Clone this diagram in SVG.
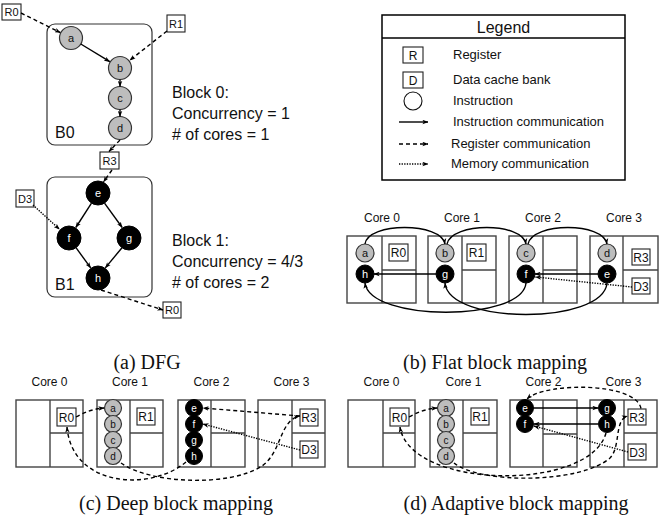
<svg xmlns="http://www.w3.org/2000/svg" width="671" height="520" viewBox="0 0 671 520">
<defs>
<marker id="ah" viewBox="0 0 8 6" refX="7.5" refY="3" markerWidth="6" markerHeight="5" markerUnits="userSpaceOnUse" orient="auto"><path d="M0,0 L8,3 L0,6 L2,3 z" fill="#000"/></marker>
</defs>
<style>
text{font-family:"Liberation Sans",Arial,sans-serif;fill:#111}
.cap{font-family:"Liberation Serif","Times New Roman",serif;font-size:20px;text-anchor:middle}
.gn{fill:#bdbdbd;stroke:#333;stroke-width:1.2}
.bn{fill:#000;stroke:#000;stroke-width:1}
.nl{font-size:11px;text-anchor:middle}
.ml{font-size:10px;text-anchor:middle}
.w{fill:#fff}
.box{fill:#fff;stroke:#222;stroke-width:1.1}
.bl{font-size:11px;text-anchor:middle}
.core{fill:none;stroke:#444;stroke-width:1.4}
.blk{fill:none;stroke:#333;stroke-width:1.2}
.big{font-size:16px}
.cl{font-size:12px;text-anchor:middle}
.lg{font-size:13px}
.s{fill:none;stroke:#000;stroke-width:1.4;marker-end:url(#ah)}
.d{fill:none;stroke:#000;stroke-width:1.4;stroke-dasharray:4 3;marker-end:url(#ah)}
.o{fill:none;stroke:#000;stroke-width:1.4;stroke-dasharray:1.3 1.3;marker-end:url(#ah)}
</style>

<!-- (a) DFG -->
<g id="dfg">
<g id="B0"><rect class="blk" x="47" y="24" width="105" height="121" rx="8"/><text class="big" x="55" y="138">B0</text></g>
<g id="B1"><rect class="blk" x="47" y="177" width="105" height="120" rx="8"/><text class="big" x="55" y="290">B1</text></g>
<g id="dfg-a"><circle class="gn" cx="71" cy="38" r="11.5"/><text class="nl" x="71" y="42">a</text></g>
<g id="dfg-b"><circle class="gn" cx="120" cy="68" r="11.5"/><text class="nl" x="120" y="72">b</text></g>
<g id="dfg-c"><circle class="gn" cx="120" cy="98" r="11.5"/><text class="nl" x="120" y="102">c</text></g>
<g id="dfg-d"><circle class="gn" cx="120" cy="128" r="11.5"/><text class="nl" x="120" y="132">d</text></g>
<g id="dfg-e"><circle class="bn" cx="98" cy="193" r="12"/><text class="nl w" x="98" y="197">e</text></g>
<g id="dfg-f"><circle class="bn" cx="69" cy="238" r="12"/><text class="nl w" x="69" y="242">f</text></g>
<g id="dfg-g"><circle class="bn" cx="129" cy="238" r="12"/><text class="nl w" x="129" y="242">g</text></g>
<g id="dfg-h"><circle class="bn" cx="98" cy="278" r="12"/><text class="nl w" x="98" y="282">h</text></g>
<g id="dfg-R0"><rect class="box" x="2" y="4" width="19" height="16"/><text class="bl" x="11.5" y="16">R0</text></g>
<g id="dfg-R1"><rect class="box" x="167" y="15" width="18" height="17"/><text class="bl" x="176" y="27.5">R1</text></g>
<g id="dfg-R3"><rect class="box" x="100" y="152" width="19" height="17"/><text class="bl" x="109.5" y="164.5">R3</text></g>
<g id="dfg-D3"><rect class="box" x="16" y="190" width="18" height="17"/><text class="bl" x="25" y="202.5">D3</text></g>
<g id="dfg-R0b"><rect class="box" x="163" y="302" width="18" height="16"/><text class="bl" x="172" y="314">R0</text></g>
</g>
<g id="dfg-edges">
<path class="s" d="M80.8,44 L109.8,61.7"/>
<path class="s" d="M120,79.5 L120,86.5"/>
<path class="s" d="M120,109.5 L120,116.5"/>
<path class="s" d="M91.5,203.1 L75.8,227.5"/>
<path class="s" d="M104.5,203.1 L122.2,227.5"/>
<path class="s" d="M76,247.7 L90.7,267.9"/>
<path class="s" d="M122,247.7 L105.3,267.9"/>
<path class="d" d="M21,13 L60.3,32.6"/>
<path class="d" d="M167,31 L129.8,60.3"/>
<path class="d" d="M120,140 L109,151.5"/>
<path class="d" d="M112,170 L103.5,182"/>
<path class="o" d="M33,205 L59.4,229.2"/>
<path class="d" d="M101,290 L163,310"/>
</g>
<g id="block-text">
<text class="big" x="172" y="98">Block 0:</text>
<text class="big" x="172" y="119">Concurrency = 1</text>
<text class="big" x="172" y="140"># of cores = 1</text>
<text class="big" x="172" y="246">Block 1:</text>
<text class="big" x="172" y="267">Concurrency = 4/3</text>
<text class="big" x="172" y="288"># of cores = 2</text>
</g>

<!-- Legend -->
<g id="legend">
<rect x="382" y="15" width="243" height="165" fill="#fff" stroke="#000" stroke-width="1.5"/>
<line x1="382" y1="38" x2="625" y2="38" stroke="#000" stroke-width="1.3"/>
<text x="503.5" y="33" font-size="16" text-anchor="middle">Legend</text>
<rect class="box" x="403" y="47" width="20" height="16"/><text x="413" y="59.5" font-size="12" text-anchor="middle">R</text>
<text class="lg" x="453" y="59">Register</text>
<rect class="box" x="403" y="72" width="20" height="16"/><text x="413" y="84.5" font-size="12" text-anchor="middle">D</text>
<text class="lg" x="453" y="84">Data cache bank</text>
<circle cx="413" cy="101" r="9" fill="#fff" stroke="#111" stroke-width="1.1"/>
<text class="lg" x="453" y="105">Instruction</text>
<path class="s" d="M399,122 L428,122"/>
<text class="lg" x="453" y="126">Instruction communication</text>
<path class="d" d="M399,144 L428,144"/>
<text class="lg" x="451" y="148">Register communication</text>
<path class="o" d="M399,164 L428,164"/>
<text class="lg" x="451" y="168">Memory communication</text>
</g>

<!-- (b) Flat -->
<g id="flat">
<g id="flat-core0"><text class="cl" x="382" y="222">Core 0</text><rect class="core" x="347" y="236" width="69" height="67"/><path class="core" d="M382,236 V303 M382,270 H416"/></g>
<g id="flat-core1"><text class="cl" x="462" y="222">Core 1</text><rect class="core" x="428" y="236" width="68" height="67"/><path class="core" d="M462,236 V303 M462,270 H496"/></g>
<g id="flat-core2"><text class="cl" x="543" y="222">Core 2</text><rect class="core" x="509" y="236" width="68" height="67"/><path class="core" d="M543,236 V303 M543,270 H577"/></g>
<g id="flat-core3"><text class="cl" x="624" y="222">Core 3</text><rect class="core" x="590" y="236" width="68" height="67"/><path class="core" d="M623,236 V303 M623,270 H658"/></g>
<g id="flat-R0"><rect class="box" x="389" y="244" width="19" height="17"/><text x="398.5" y="257" font-size="12" text-anchor="middle">R0</text></g>
<g id="flat-R1"><rect class="box" x="467" y="244" width="19" height="17"/><text x="476.5" y="257" font-size="12" text-anchor="middle">R1</text></g>
<g id="flat-R3"><rect class="box" x="632" y="249" width="18" height="16"/><text x="641" y="261.5" font-size="12" text-anchor="middle">R3</text></g>
<g id="flat-D3"><rect class="box" x="632" y="278" width="18" height="16"/><text x="641" y="290.5" font-size="12" text-anchor="middle">D3</text></g>
<g id="flat-a"><circle class="gn" cx="365" cy="253" r="9"/><text class="nl" x="365" y="257">a</text></g>
<g id="flat-h"><circle class="bn" cx="365" cy="274" r="9"/><text class="nl w" x="365" y="278">h</text></g>
<g id="flat-b"><circle class="gn" cx="445" cy="253" r="9"/><text class="nl" x="445" y="257">b</text></g>
<g id="flat-g"><circle class="bn" cx="445" cy="274" r="9"/><text class="nl w" x="445" y="278">g</text></g>
<g id="flat-c"><circle class="gn" cx="526" cy="253" r="9"/><text class="nl" x="526" y="257">c</text></g>
<g id="flat-f"><circle class="bn" cx="526" cy="274" r="9"/><text class="nl w" x="526" y="278">f</text></g>
<g id="flat-d"><circle class="gn" cx="607" cy="253" r="9"/><text class="nl" x="607" y="257">d</text></g>
<g id="flat-e"><circle class="bn" cx="607" cy="274" r="9"/><text class="nl w" x="607" y="278">e</text></g>
</g>
<g id="flat-edges">
<path class="s" d="M365,244 C368,222 441,222 445,244"/>
<path class="s" d="M447,244 C452,222 522,222 526,244"/>
<path class="s" d="M528,244 C533,222 603,222 607,244"/>
<path class="s" d="M598,274 L535,274"/>
<path class="s" d="M436,274 L374,274"/>
<path class="o" d="M632,287 L535.5,277"/>
<path class="s" d="M526,283 C522,322 370,322 365,283"/>
<path class="s" d="M607,283 C603,325 449,325 445,283"/>
</g>

<!-- (c) Deep -->
<g id="deep">
<g id="deep-core0"><text class="cl" x="49.5" y="386">Core 0</text><rect class="core" x="16" y="400" width="67" height="67"/><path class="core" d="M50,400 V467 M50,433 H83"/></g>
<g id="deep-core1"><text class="cl" x="130" y="386">Core 1</text><rect class="core" x="97" y="400" width="66" height="67"/><path class="core" d="M130,400 V467 M130,433 H163"/></g>
<g id="deep-core2"><text class="cl" x="211.5" y="386">Core 2</text><rect class="core" x="178" y="400" width="67" height="67"/><path class="core" d="M211,400 V467 M211,433 H245"/></g>
<g id="deep-core3"><text class="cl" x="291.5" y="386">Core 3</text><rect class="core" x="258" y="400" width="67" height="67"/><path class="core" d="M292,400 V467 M292,433 H325"/></g>
<g id="deep-R0"><rect class="box" x="57" y="408" width="19" height="18"/><text x="66.5" y="421.5" font-size="12" text-anchor="middle">R0</text></g>
<g id="deep-R1"><rect class="box" x="137" y="408" width="18" height="17"/><text x="146" y="421" font-size="12" text-anchor="middle">R1</text></g>
<g id="deep-R3"><rect class="box" x="300" y="409" width="18" height="17"/><text x="309" y="422" font-size="12" text-anchor="middle">R3</text></g>
<g id="deep-D3"><rect class="box" x="300" y="441" width="18" height="17"/><text x="309" y="454" font-size="12" text-anchor="middle">D3</text></g>
<g id="deep-a"><circle class="gn" cx="113" cy="408" r="8.5"/><text class="ml" x="113" y="411.5">a</text></g>
<g id="deep-b"><circle class="gn" cx="113" cy="424" r="8.5"/><text class="ml" x="113" y="427.5">b</text></g>
<g id="deep-c"><circle class="gn" cx="113" cy="440" r="8.5"/><text class="ml" x="113" y="443.5">c</text></g>
<g id="deep-d"><circle class="gn" cx="113" cy="456" r="8.5"/><text class="ml" x="113" y="459.5">d</text></g>
<g id="deep-e"><circle class="bn" cx="194" cy="408" r="8.5"/><text class="ml w" x="194" y="411.5">e</text></g>
<g id="deep-f"><circle class="bn" cx="194" cy="424" r="8.5"/><text class="ml w" x="194" y="427.5">f</text></g>
<g id="deep-g"><circle class="bn" cx="194" cy="440" r="8.5"/><text class="ml w" x="194" y="443.5">g</text></g>
<g id="deep-h"><circle class="bn" cx="194" cy="456" r="8.5"/><text class="ml w" x="194" y="459.5">h</text></g>
</g>
<g id="deep-edges">
<path class="d" d="M76,417 Q90,409 104,408"/>
<path class="d" d="M300,416 L203,408"/>
<path class="o" d="M300,450 L203,424"/>
<path class="d" d="M186,462 C150,492 72,487 67,427"/>
<path class="d" d="M121,463 C150,484 230,487 262,466 C282,452 279,421 299.5,416"/>
</g>

<!-- (d) Adaptive -->
<g id="adaptive">
<g id="ad-core0"><text class="cl" x="381.5" y="386">Core 0</text><rect class="core" x="348" y="400" width="67" height="67"/><path class="core" d="M383,400 V467 M383,433 H415"/></g>
<g id="ad-core1"><text class="cl" x="463.5" y="386">Core 1</text><rect class="core" x="430" y="400" width="67" height="67"/><path class="core" d="M463,400 V467 M463,433 H497"/></g>
<g id="ad-core2"><text class="cl" x="543.5" y="386">Core 2</text><rect class="core" x="510" y="400" width="67" height="67"/><path class="core" d="M543,400 V467 M543,434 H577"/></g>
<g id="ad-core3"><text class="cl" x="623.5" y="386">Core 3</text><rect class="core" x="590" y="400" width="67" height="67"/><path class="core" d="M624,400 V467 M624,433 H657"/></g>
<g id="ad-R0"><rect class="box" x="390" y="408" width="19" height="18"/><text x="399.5" y="421.5" font-size="12" text-anchor="middle">R0</text></g>
<g id="ad-R1"><rect class="box" x="471" y="408" width="18" height="17"/><text x="480" y="421" font-size="12" text-anchor="middle">R1</text></g>
<g id="ad-R3"><rect class="box" x="628" y="409" width="18" height="16"/><text x="637" y="421.5" font-size="12" text-anchor="middle">R3</text></g>
<g id="ad-D3"><rect class="box" x="628" y="444" width="18" height="16"/><text x="637" y="456.5" font-size="12" text-anchor="middle">D3</text></g>
<g id="ad-a"><circle class="gn" cx="446" cy="408" r="8.5"/><text class="ml" x="446" y="411.5">a</text></g>
<g id="ad-b"><circle class="gn" cx="446" cy="424" r="8.5"/><text class="ml" x="446" y="427.5">b</text></g>
<g id="ad-c"><circle class="gn" cx="446" cy="440" r="8.5"/><text class="ml" x="446" y="443.5">c</text></g>
<g id="ad-d"><circle class="gn" cx="446" cy="456" r="8.5"/><text class="ml" x="446" y="459.5">d</text></g>
<g id="ad-e"><circle class="bn" cx="525" cy="408" r="8.5"/><text class="ml w" x="525" y="411.5">e</text></g>
<g id="ad-f"><circle class="bn" cx="525" cy="424" r="8.5"/><text class="ml w" x="525" y="427.5">f</text></g>
<g id="ad-g"><circle class="bn" cx="607" cy="408" r="8.5"/><text class="ml w" x="607" y="411.5">g</text></g>
<g id="ad-h"><circle class="bn" cx="607" cy="424" r="8.5"/><text class="ml w" x="607" y="427.5">h</text></g>
</g>
<g id="ad-edges">
<path class="d" d="M409,417 Q423,409 437,408"/>
<path class="s" d="M533.5,408 L598,408"/>
<path class="s" d="M598,424 L534,424"/>
<path class="o" d="M628,452 L534,426"/>
<path class="d" d="M641,408.5 C636,382 545,382 527,399"/>
<path class="d" d="M606,433 C590,492 410,490 400,427"/>
<path class="d" d="M454,463 C480,484 580,484 610,458 C621,447 614,420 627.5,416"/>
</g>

<!-- captions -->
<g id="captions">
<text class="cap" x="147" y="369">(a) DFG</text>
<text class="cap" x="495" y="369">(b) Flat block mapping</text>
<text class="cap" x="176" y="510">(c) Deep block mapping</text>
<text class="cap" x="516" y="510">(d) Adaptive block mapping</text>
</g>
</svg>
